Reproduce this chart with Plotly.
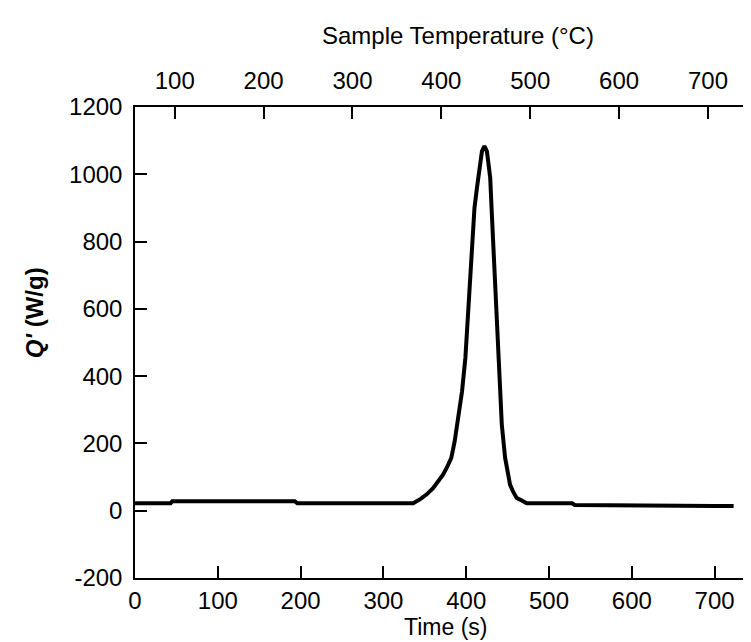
import plotly.graph_objects as go

time_s = [0, 43, 45, 193, 196, 336, 345, 352, 360, 366, 372, 377, 382, 386, 389, 392, 395,
          399, 403, 407, 410, 413, 416, 419, 422, 425, 427, 429, 431, 434, 437, 440, 443,
          447, 450, 453, 457, 461, 465, 469, 473, 500, 528, 531, 560, 600, 650, 700, 723]
qprime = [22, 22, 28, 28, 22, 22, 35, 48, 67, 85, 107, 130, 157, 205, 256, 305, 355,
          454, 603, 751, 900, 960, 1010, 1068, 1084, 1068, 1030, 989, 880, 731, 553, 404, 256,
          157, 110, 77, 55, 38, 33, 27, 22, 22, 22, 17, 16, 15, 14, 14, 14]

x_ticks = [0, 100, 200, 300, 400, 500, 600, 700]
y_ticks = [-200, 0, 200, 400, 600, 800, 1000, 1200]
y_tick_labels = ["-200", "0", "200", "400", "600", "800", "1000", "1200"]
temp_ticks = [100, 200, 300, 400, 500, 600, 700]
x_range = [0, 750]
y_range = [-200, 1200]
temp_range = [55.3, 754]

FONT = "Liberation Sans, Arial, sans-serif"

fig = go.Figure()
fig.add_trace(go.Scatter(x=time_s, y=qprime, mode="lines",
                         line=dict(color="black", width=4), showlegend=False,
                         hoverinfo="skip"))
# invisible trace so the top temperature axis is drawn
fig.add_trace(go.Scatter(x=temp_ticks, y=[None] * len(temp_ticks), xaxis="x2",
                         mode="lines", showlegend=False, hoverinfo="skip"))

axis_common = dict(showgrid=False, zeroline=False, showline=True, linecolor="black",
                   linewidth=1.5, ticks="inside", ticklen=12, tickwidth=1.5,
                   tickcolor="black", tickfont=dict(family=FONT, size=24, color="black"))

fig.update_layout(
    width=751, height=642,
    margin=dict(l=127, r=1, t=99, b=72),
    plot_bgcolor="white", paper_bgcolor="white",
    xaxis=dict(range=x_range, tickvals=x_ticks, mirror=False, ticklabelstandoff=0,
               **axis_common),
    xaxis2=dict(range=temp_range, tickvals=temp_ticks, overlaying="x", side="top",
                anchor="y", ticklabelstandoff=7, **axis_common),
    yaxis=dict(range=y_range, tickvals=y_ticks, ticktext=y_tick_labels, mirror="ticks",
               ticklabelstandoff=6, **axis_common),
    annotations=[
        dict(text="Sample Temperature (°C)", x=451, y=27, showarrow=False,
             font=dict(family=FONT, size=24, color="black")),
        dict(text="Time (s)", x=438, y=619, showarrow=False,
             font=dict(family=FONT, size=23, color="black")),
        dict(text="<b><i>Q'</i> (W/g)</b>", x=26, y=305, showarrow=False, textangle=-90,
             font=dict(family=FONT, size=24, color="black")),
    ],
)

# convert pixel positions to paper coordinates for annotations
W, H = 751, 642
l, r, t, b = 127, 1, 99, 72
pw, ph = W - l - r, H - t - b
new_ann = []
for a in fig.layout.annotations:
    px, py = a.x, a.y
    a.x = (px - l) / pw
    a.y = (H - b - py) / ph
    a.xref = "paper"
    a.yref = "paper"
    a.xanchor = "center"
    a.yanchor = "middle"
    new_ann.append(a)
fig.layout.annotations = new_ann

fig.write_html("out.html")
